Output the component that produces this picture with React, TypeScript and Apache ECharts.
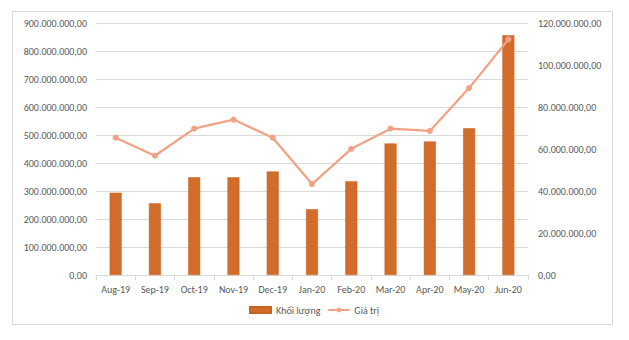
import React, { useEffect, useRef } from "react";
import * as echarts from "echarts";

const categories = ["Aug-19", "Sep-19", "Oct-19", "Nov-19", "Dec-19", "Jan-20", "Feb-20", "Mar-20", "Apr-20", "May-20", "Jun-20"];
const volume = [294e6, 256e6, 349e6, 349e6, 370e6, 235e6, 335e6, 470e6, 477e6, 524e6, 856e6];
const value = [65.4e6, 56.8e6, 69.7e6, 74.0e6, 65.4e6, 43.3e6, 60.1e6, 69.7e6, 68.6e6, 89.0e6, 112.2e6];
const seriesNames = ["Khối lượng", "Giá trị"];

function fmt(v: number): string {
  const s = Math.round(v).toString().replace(/\B(?=(\d{3})+(?!\d))/g, ".");
  return s + ",00";
}

export default function App() {
  const ref = useRef<HTMLDivElement>(null);
  useEffect(() => {
    const chart = echarts.init(ref.current!, null, { renderer: "svg" });
    const font = "Carlito, 'Liberation Sans', Arial, sans-serif";
    chart.setOption({
      animation: false,
      backgroundColor: "#ffffff",
      textStyle: { fontFamily: font },
      graphic: [
        {
          type: "rect",
          shape: { x: 12.5, y: 11.5, width: 600, height: 313 },
          style: { fill: "none", stroke: "#d9d9d9", lineWidth: 1 },
          silent: true,
        },
      ],
      grid: { left: 96, right: 101, top: 23, bottom: 65 },
      legend: {
        left: 244,
        top: 300,
        itemWidth: 21,
        itemHeight: 6,
        itemGap: 7,
        textStyle: { color: "#595959", fontSize: 10, fontFamily: font },
        data: [
          { name: seriesNames[0], icon: "rect" },
          { name: seriesNames[1] },
        ],
      },
      xAxis: {
        type: "category",
        data: categories,
        axisLine: { lineStyle: { color: "#d9d9d9" } },
        axisTick: { show: true, length: 5, interval: 0, lineStyle: { color: "#d9d9d9" } },
        axisLabel: { color: "#595959", fontSize: 10, margin: 9, interval: 0 },
      },
      yAxis: [
        {
          type: "value",
          min: 0,
          max: 900e6,
          interval: 100e6,
          axisLine: { show: false },
          axisTick: { show: false },
          splitLine: { lineStyle: { color: "#d9d9d9" } },
          axisLabel: { color: "#595959", fontSize: 10, margin: 9, formatter: fmt },
        },
        {
          type: "value",
          min: 0,
          max: 120e6,
          interval: 20e6,
          axisLine: { show: false },
          axisTick: { show: false },
          splitLine: { show: false },
          axisLabel: { color: "#595959", fontSize: 10, margin: 10, formatter: fmt },
        },
      ],
      series: [
        {
          name: seriesNames[0],
          type: "bar",
          data: volume,
          yAxisIndex: 0,
          barWidth: 12,
          itemStyle: { color: "#D26C2A", borderColor: "#C8621F", borderWidth: 0.5 },
        },
        {
          name: seriesNames[1],
          type: "line",
          data: value,
          yAxisIndex: 1,
          symbol: "circle",
          symbolSize: 6,
          lineStyle: { color: "#F2A283", width: 2.25 },
          itemStyle: { color: "#F2A283" },
        },
      ],
    });
    return () => chart.dispose();
  }, []);
  return <div ref={ref} style={{ position: "fixed", left: 0, top: 0, width: 629, height: 340 }} />;
}
